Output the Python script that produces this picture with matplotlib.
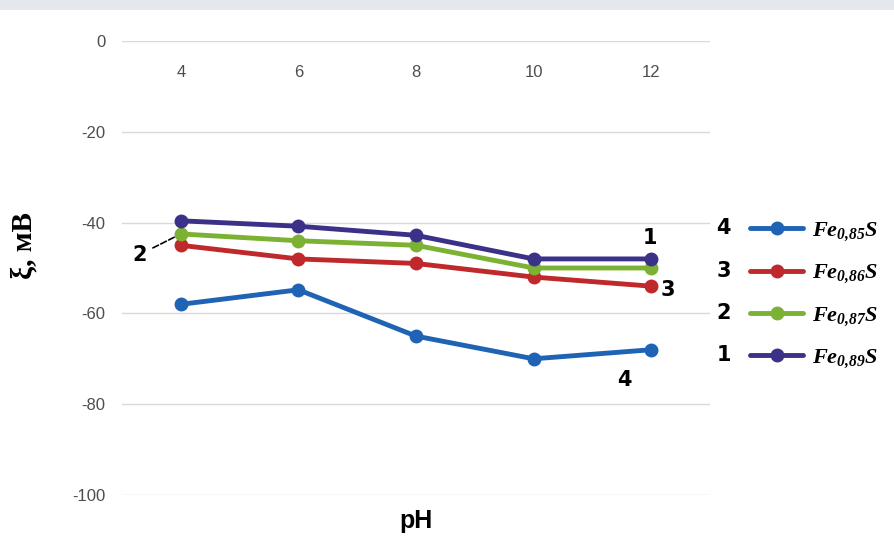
import numpy as np
import matplotlib
matplotlib.use('Agg')
import matplotlib.pyplot as plt
import matplotlib.transforms as mtransforms
from matplotlib.patches import Rectangle

# Параметры шрифта для формул в легенде
plt.rcParams['mathtext.fontset'] = 'custom'
plt.rcParams['mathtext.it'] = 'Liberation Serif:italic:bold'
plt.rcParams['mathtext.rm'] = 'Liberation Serif:italic:bold'
plt.rcParams['mathtext.bf'] = 'Liberation Serif:italic:bold'

# Данные
ph = ['4', '6', '8', '10', '12']
fe085 = [-58, -54.8, -65, -70, -68]   # 4
fe086 = [-45, -48, -49, -52, -54]     # 3
fe087 = [-42.5, -44, -45, -50, -50]   # 2
fe089 = [-39.6, -40.8, -42.8, -48, -48]  # 1
y_ticks = [0, -20, -40, -60, -80, -100]

series = [
    ('4', r'$Fe_{0{,}85}S$', fe085, '#1f63b5'),
    ('3', r'$Fe_{0{,}86}S$', fe086, '#c0292b'),
    ('2', r'$Fe_{0{,}87}S$', fe087, '#7bb233'),
    ('1', r'$Fe_{0{,}89}S$', fe089, '#3b3189'),
]

fig = plt.figure(figsize=(8.94, 5.45), dpi=100)
fig.patches.append(Rectangle((0, 1 - 10 / 545), 1, 10 / 545, transform=fig.transFigure,
                             facecolor='#e4e7eb', edgecolor='none'))
ax = fig.add_axes([122 / 894, 1 - 495 / 545, (710 - 122) / 894, (495 - 41) / 545])

x = np.arange(len(ph))
handles = []
for num, lab, vals, col in series:
    h, = ax.plot(x, vals, color=col, lw=3.5, marker='o', ms=9, solid_capstyle='round', label=lab)
    handles.append(h)

ax.set_xlim(-0.5, len(ph) - 0.5)
ax.set_ylim(-100, 0)
ax.set_yticks(y_ticks, [str(t) for t in y_ticks])
ax.set_xticks(x, ph)
ax.xaxis.tick_top()
ax.tick_params(axis='x', length=0, pad=-28, labelsize=12, labelcolor='#4d4d4d')
ax.tick_params(axis='y', length=0, pad=12, labelsize=12, labelcolor='#4d4d4d')
for t in ax.get_xticklabels() + ax.get_yticklabels():
    t.set_fontfamily('Liberation Sans')
ax.grid(axis='y', color='#d9d9d9', lw=1)
ax.set_axisbelow(True)
for s in ax.spines.values():
    s.set_visible(False)

ax.set_ylabel('ξ, мВ', fontsize=21, fontweight='bold', family='Liberation Serif')
ax.yaxis.set_label_coords(-0.143, 0.55)
ax.xaxis.set_label_position('bottom')
ax.set_xlabel('pH', fontsize=18, fontweight='bold', family='Liberation Sans', labelpad=10)

# Номера кривых
nfont = dict(fontsize=15, fontweight='bold', family='DejaVu Sans', ha='center', va='center')
ax.annotate('1', xy=(4, fe089[4]), xytext=(-1, 15), textcoords='offset points', **nfont)
ax.annotate('3', xy=(4, fe086[4]), xytext=(12, -3), textcoords='offset points', **nfont)
ax.annotate('4', xy=(4, fe085[4]), xytext=(-19, -22), textcoords='offset points', **nfont)
ax.annotate('2', xy=(0, fe087[0]), xytext=(-30, -15), textcoords='offset points',
            arrowprops=dict(arrowstyle='-', linestyle='--', color='k', lw=1.2, shrinkA=3, shrinkB=4),
            **nfont)

leg = fig.legend(handles=handles, loc='center left', bbox_to_anchor=(750 / 894, 1 - 295 / 545),
                 frameon=False, fontsize=16, handlelength=2.4, handletextpad=0.4,
                 labelspacing=0.86, borderpad=0, borderaxespad=0)

fig.canvas.draw()
ident = mtransforms.IdentityTransform()
for ln, (num, lab, vals, col) in zip(leg.get_lines(), series):
    bb = ln.get_window_extent()
    fig.text(bb.x0 - 20, (bb.y0 + bb.y1) / 2, num, transform=ident, **nfont)

fig.savefig('out.png', dpi=100)
